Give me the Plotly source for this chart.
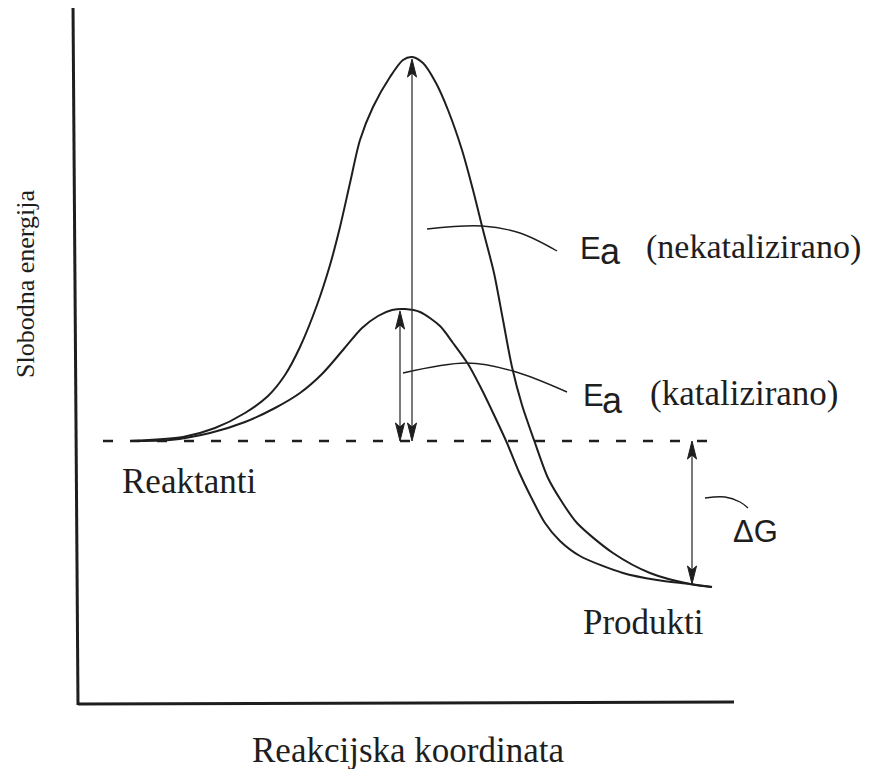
import plotly.graph_objects as go

# ---- data (reaction coordinate in arbitrary units, free energy relative to reactants) ----
rc_uncat = [130, 183, 215, 245, 268, 285, 300, 317, 330, 340, 350, 360, 373, 390, 403, 412, 423, 436, 448,
            462, 473, 483, 494, 503, 512, 522, 534, 548, 562, 577, 613, 650, 690, 712]
g_uncat = [0, 4, 13, 28, 45, 66, 94, 136, 176, 214, 258, 301, 334, 364, 381, 384, 378, 358, 331,
           291, 251, 211, 168, 121, 74, 36, 1, -37, -61, -82, -112, -132, -143, -146]

rc_cat = [130, 170, 210, 245, 275, 300, 322, 343, 362, 378, 392, 405, 420, 440, 453, 468, 482, 495, 507,
          519, 531, 545, 560, 580, 623, 657, 690, 712]
g_cat = [0, 1, 8, 19, 33, 48, 67, 91, 113, 125, 131, 132, 129, 115, 98, 77, 51, 24, -2,
         -31, -56, -82, -100, -115, -132, -139, -143, -146]

baseline_rc = [103, 722]
baseline_g = [0, 0]

# double-headed arrows: Ea (uncatalysed), Ea (catalysed), dG
arrow_rc = [412, 400, 692]
arrow_low = [0, 0, -143]
arrow_high = [382, 130, 0]

# leader arcs to labels
lead1_rc = [427, 482, 520, 557]
lead1_g = [212, 215, 208, 190]
lead2_rc = [403, 467, 513, 567]
lead2_g = [68, 78, 70, 49]
lead3_rc = [705, 725, 740, 748]
lead3_g = [-57, -56, -61, -67]

# frame (axes) end points
yaxis_rc = [73, 78]
yaxis_g = [436, -264]
xaxis_rc = [78, 734]
xaxis_g = [-263, -261]

INK = "#1e1e1e"
SERIF = "Liberation Serif, Times New Roman, serif"
SANS = "Liberation Sans, Arial, sans-serif"

fig = go.Figure()

# frame
fig.add_trace(go.Scatter(x=yaxis_rc, y=yaxis_g, mode="lines", line=dict(color=INK, width=3), hoverinfo="skip"))
fig.add_trace(go.Scatter(x=xaxis_rc, y=xaxis_g, mode="lines", line=dict(color=INK, width=3), hoverinfo="skip"))

# dashed reactant level
fig.add_trace(go.Scatter(x=baseline_rc, y=baseline_g, mode="lines",
                         line=dict(color=INK, width=2.5, dash="10px,17px"), hoverinfo="skip"))

# energy curves
fig.add_trace(go.Scatter(x=rc_uncat, y=g_uncat, mode="lines",
                         line=dict(color=INK, width=2, shape="spline", smoothing=0.8), hoverinfo="skip"))
fig.add_trace(go.Scatter(x=rc_cat, y=g_cat, mode="lines",
                         line=dict(color=INK, width=2, shape="spline", smoothing=0.8), hoverinfo="skip"))

# leaders
for lx, ly in [(lead1_rc, lead1_g), (lead2_rc, lead2_g), (lead3_rc, lead3_g)]:
    fig.add_trace(go.Scatter(x=lx, y=ly, mode="lines",
                             line=dict(color=INK, width=1.4, shape="spline", smoothing=1), hoverinfo="skip"))

# arrows
HEAD_LEN = 18
HEAD_NOTCH = 14
HEAD_HALF = 4.5
for ax, lo, hi in zip(arrow_rc, arrow_low, arrow_high):
    fig.add_trace(go.Scatter(x=[ax, ax], y=[lo + 10, hi - 10], mode="lines",
                             line=dict(color="#333333", width=1.3), hoverinfo="skip"))
    for tip, d in [(hi, -1), (lo, 1)]:
        path = (f"M {ax},{tip} L {ax - HEAD_HALF},{tip + d * HEAD_LEN} "
                f"L {ax},{tip + d * HEAD_NOTCH} L {ax + HEAD_HALF},{tip + d * HEAD_LEN} Z")
        fig.add_shape(type="path", path=path, xref="x", yref="y",
                      fillcolor=INK, line=dict(color=INK, width=1))

def label(x, y, text, font, size, xanchor="left", angle=0):
    fig.add_annotation(x=x, y=y, text=text, showarrow=False, xref="x", yref="y",
                       xanchor=xanchor, yanchor="middle", textangle=angle,
                       font=dict(family=font, size=size, color=INK), borderpad=0)

label(579, 192.7, "E", SANS, 31)
label(599, 189.5, "a", SANS, 36)
label(645, 194, "(nekatalizirano)", SERIF, 34)
label(582, 45.7, "E", SANS, 31)
label(601, 40.5, "a", SANS, 36)
label(649, 48, "(katalizirano)", SERIF, 35)
label(121, -40, "Reaktanti", SERIF, 35)
label(582, -181, "Produkti", SERIF, 35)
label(732, -90.3, "ΔG", SANS, 31)
label(408, -309, "Reakcijska koordinata", SERIF, 35, xanchor="center")
label(25, 157, "Slobodna energija", SERIF, 26, xanchor="center", angle=-90)

# page body has an 8px margin: size the figure and ranges so that the drawing fills the window
fig.update_layout(
    width=861, height=761,
    margin=dict(l=0, r=0, t=0, b=0),
    paper_bgcolor="white", plot_bgcolor="white",
    showlegend=False,
    xaxis=dict(range=[8, 869], visible=False, fixedrange=True),
    yaxis=dict(range=[-328, 433], visible=False, fixedrange=True),
)

fig.write_html("out.html")
